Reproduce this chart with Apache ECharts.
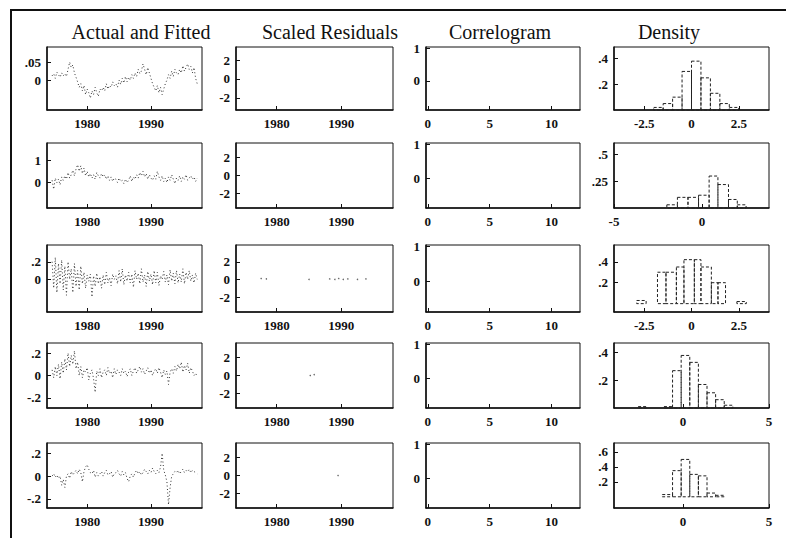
<!DOCTYPE html>
<html><head><meta charset="utf-8">
<script src="https://cdn.jsdelivr.net/npm/echarts@6/dist/echarts.min.js"></script>
<style>html,body{margin:0;padding:0;background:#fff}#c{width:793px;height:538px}</style>
</head><body><div id="c"></div>
<script>
// ---------- DATA ----------
var panelTitles = ["Actual and Fitted", "Scaled Residuals", "Correlogram", "Density"];
var startQuarter = 1974.5; // quarterly observations
var actual1 = [0.012,0.018,0.005,0.022,0.015,0.008,0.02,0.012, 0.018,0.01,0.03,0.05,0.035,0.042,0.02,0.008,
  -0.005,-0.02,-0.01,-0.03,-0.015,-0.04,-0.025,-0.035, -0.05,-0.03,-0.04,-0.02,-0.035,-0.045,-0.025,-0.03,
  -0.02,-0.03,-0.01,-0.025,-0.015,-0.02,-0.005,-0.015, -0.01,-0.02,0.0,-0.012,0.005,-0.008,0.01,-0.005,
  0.008,0.0,0.015,0.005,0.02,0.01,0.03,0.018, 0.025,0.045,0.03,0.015,0.035,0.02,0.005,-0.01,
  -0.02,-0.03,-0.015,-0.035,-0.02,-0.04,-0.025,-0.01, 0.0,0.015,0.005,0.025,0.01,0.03,0.02,0.015,
  0.03,0.02,0.04,0.025,0.035,0.045,0.03,0.038, 0.02,0.035,0.005,-0.01];
var actual2 = [0.1,-0.3,0.2,0.0,0.15,-0.1,0.25,0.1, 0.3,0.15,0.45,0.2,0.35,0.55,0.3,0.6,
  0.8,0.5,0.75,0.4,0.65,0.3,0.5,0.25, 0.4,0.2,0.35,0.15,0.45,0.3,0.2,0.4,
  0.25,0.35,0.15,0.3,0.1,0.25,0.05,0.2, 0.15,0.0,0.2,0.05,0.1,-0.05,0.15,0.0,
  0.1,0.3,0.05,0.25,0.15,0.35,0.2,0.45, 0.3,0.5,0.25,0.4,0.15,0.35,0.2,0.1,
  0.3,0.15,0.5,0.25,0.1,0.3,0.05,0.2, 0.0,0.25,0.1,0.35,0.15,-0.05,0.2,0.1,
  0.3,0.05,0.25,0.15,0.35,0.1,0.2,0.3, 0.15,0.25,0.05,0.2];
var actual3 = [0.2,-0.1,0.25,-0.15,0.18,-0.05,0.22,-0.12, 0.15,-0.18,0.2,0.0,0.12,-0.15,0.18,-0.08,
  0.1,-0.12,0.15,-0.05,0.08,-0.1,0.05,-0.02, 0.06,-0.2,0.04,-0.08,0.07,-0.05,0.03,-0.1,
  0.05,-0.06,0.08,-0.04,0.02,-0.07,0.06,0.0, 0.04,-0.05,0.1,-0.03,0.12,-0.06,0.05,-0.02,
  0.08,-0.04,0.06,-0.09,0.1,0.0,0.07,-0.05, 0.12,-0.03,0.05,-0.08,0.09,-0.02,0.06,-0.06,
  0.1,-0.04,0.08,-0.07,0.04,0.0,0.09,-0.03, 0.05,-0.06,0.11,-0.02,0.07,-0.05,0.1,-0.04,
  0.06,-0.03,0.12,-0.05,0.08,0.0,0.1,-0.02, 0.05,-0.04,0.07,0.0];
var actual4 = [0.05,-0.02,0.08,0.0,0.1,-0.03,0.12,0.02, 0.15,0.05,0.2,0.08,0.18,0.1,0.22,0.06,
  0.12,0.0,0.08,-0.02,0.05,0.03,0.07,-0.04, 0.02,0.05,-0.03,-0.15,0.04,0.0,0.06,-0.02,
  0.03,0.05,0.0,0.07,0.02,0.04,-0.02,0.06, 0.01,0.05,0.03,0.0,0.06,0.02,0.04,-0.01,
  0.03,0.06,0.0,0.04,0.07,0.02,0.05,0.08, 0.03,0.06,0.01,0.04,0.07,0.02,0.05,0.0,
  0.04,0.06,0.02,0.07,0.03,-0.02,0.05,0.01, 0.04,-0.08,0.03,0.06,0.02,0.08,0.04,0.1,
  0.06,0.12,0.03,0.09,0.05,0.11,0.02,0.07, 0.04,0.0,0.02,-0.01];
var actual5 = [0.0,0.02,-0.01,0.01,-0.02,0.0,-0.08,-0.03, -0.1,0.0,0.02,-0.02,0.04,0.01,0.03,0.05,
  0.02,0.06,0.03,-0.05,0.04,0.08,0.1,0.06, 0.03,0.02,0.05,-0.01,0.03,0.0,0.02,0.04,
  0.0,0.03,0.05,0.01,0.02,0.04,-0.01,0.02, 0.03,0.05,0.02,0.0,0.04,0.01,0.03,-0.02,
  -0.05,0.0,0.02,-0.01,0.03,0.05,0.02,0.04, 0.01,0.03,0.06,0.04,0.02,0.05,0.03,0.07,
  0.04,0.02,0.05,0.03,0.08,0.2,0.05,0.01, -0.05,-0.25,-0.1,0.0,0.02,0.04,0.03,0.05,
  0.02,0.04,0.06,0.03,0.05,0.04,0.06,0.03, 0.05,0.04,0.03,0.02];
var actualSeries = [actual1, actual2, actual3, actual4, actual5];

// scaled residuals: only faint scattered points survive in the picture
var resid1 = [];
var resid2 = [];
var resid3 = [[1977.6,0.1],[1978.4,0.05],[1985.0,0.0],[1988.2,0.05],[1989.0,0.0],[1989.6,0.1],[1990.3,0.0],[1991.0,0.05],[1992.5,0.0],[1993.8,0.05]];
var resid4 = [[1985.2,0.0],[1985.8,0.1]];
var resid5 = [[1989.5,0.0]];
var residSeries = [resid1, resid2, resid3, resid4, resid5];

// density histograms: [binStart, binEnd, height]
var hist1 = [[-2,-1.5,0.02],[-1.5,-1,0.05],[-1,-0.5,0.1],[-0.5,0,0.3],[0,0.5,0.38],[0.5,1,0.25],[1,1.5,0.13],[1.5,2,0.05],[2,2.5,0.02]];
var hist2 = [[-2,-1.4,0.03],[-1.4,-0.8,0.1],[-0.8,-0.2,0.1],[-0.2,0.4,0.12],[0.4,0.9,0.3],[0.9,1.5,0.22],[1.5,2,0.08],[2,2.5,0.03]];
var hist3 = [[-2.9,-2.4,0.03],[-1.8,-1.35,0.3],[-1.35,-0.8,0.3],[-0.8,-0.4,0.35],[-0.4,0.15,0.42],[0.15,0.5,0.42],[0.5,1.05,0.35],[1.05,1.4,0.2],[1.4,1.8,0.2],[2.4,2.9,0.02]];
var hist4 = [[-2.6,-2.1,0.01],[-1.1,-0.6,0.01],[-0.6,-0.1,0.27],[-0.1,0.4,0.38],[0.4,0.9,0.33],[0.9,1.4,0.17],[1.4,1.9,0.11],[1.9,2.4,0.06],[2.4,2.9,0.02]];
var hist5 = [[-1.2,-0.6,0.03],[-0.6,-0.1,0.35],[-0.1,0.4,0.5],[0.4,0.9,0.3],[0.9,1.4,0.28],[1.4,1.9,0.05],[1.9,2.4,0.02]];
var histSeries = [hist1, hist2, hist3, hist4, hist5];

// tick labels
var yearTicks = [1980, 1990];
var lagTicks = [0, 5, 10];
var actualYTicks = [[0, 0.05], [0, 1], [0, 0.2], [-0.2, 0, 0.2], [-0.2, 0, 0.2]];
var residYTicks = [-2, 0, 2];
var corrYTicks = [0, 1];
var densXTicks = [[-2.5, 0, 2.5], [-5, 0], [-2.5, 0, 2.5], [0, 5], [0, 5]];
var densYTicks = [[0.2, 0.4], [0.25, 0.5], [0.2, 0.4], [0.2, 0.4], [0.2, 0.4, 0.6]];

// ---------- LAYOUT ----------
var colLeft = [47, 236, 426, 614], colWidth = [155, 157, 154, 155];
var rowTop = [47, 143, 245, 343, 443], rowHeight = [63, 65, 67, 65, 65];
var titleX = [141, 330, 500, 669];
var yearRange = [1973.7, 1998];
var lagRange = [-0.15, 12.3];
var actualYRange = [[-0.083, 0.092], [-1.14, 1.77], [-0.37, 0.39], [-0.29, 0.29], [-0.28, 0.29]];
var residYRange = [[-3.3, 3.4], [-3.6, 3.6], [-3.7, 3.9], [-3.6, 3.6], [-3.6, 3.6]];
var corrYRange = [-0.9, 1.05];
var densXRange = [[-4.1, 4.1], [-5, 3.8], [-4.1, 4.1], [-4, 5], [-4, 5]];
var densYRange = [[0, 0.49], [0, 0.61], [-0.08, 0.56], [0, 0.47], [-0.15, 0.72]];

var FONT = "'Liberation Serif', 'DejaVu Serif', serif";
function fmt(v) {
  var s = String(+(+v).toFixed(3));
  return s.replace(/^(-?)0\./, '$1.');
}
var times = actual1.map(function (_, i) { return startQuarter + i * 0.25; });

var grids = [], xAxes = [], yAxes = [], series = [];
function axisCommon(ticks, min, max, isX) {
  return {
    type: 'value', min: min, max: max,
    splitLine: { show: false },
    axisLine: { show: true, onZero: false, lineStyle: { color: '#111', width: 1.5 } },
    axisTick: { show: true, inside: true, length: 4, customValues: ticks, lineStyle: { color: '#111' } },
    axisLabel: { customValues: ticks, formatter: isX === 'year' ? function (v) { return String(Math.round(v)); } : fmt,
      fontFamily: FONT, fontWeight: 'bold', fontSize: 13, color: '#111', margin: isX ? 7 : 6 }
  };
}
for (var r = 0; r < 5; r++) {
  for (var c = 0; c < 4; c++) {
    var gi = grids.length;
    grids.push({ left: colLeft[c], top: rowTop[r], width: colWidth[c], height: rowHeight[r],
      show: true, borderColor: '#111', borderWidth: 1, backgroundColor: 'transparent', containLabel: false });
    var xa, ya;
    if (c === 0) { xa = axisCommon(yearTicks, yearRange[0], yearRange[1], 'year'); ya = axisCommon(actualYTicks[r], actualYRange[r][0], actualYRange[r][1]); }
    else if (c === 1) { xa = axisCommon(yearTicks, yearRange[0], yearRange[1], 'year'); ya = axisCommon(residYTicks, residYRange[r][0], residYRange[r][1]); }
    else if (c === 2) { xa = axisCommon(lagTicks, lagRange[0], lagRange[1], true); ya = axisCommon(corrYTicks, corrYRange[0], corrYRange[1]); }
    else { xa = axisCommon(densXTicks[r], densXRange[r][0], densXRange[r][1], true); ya = axisCommon(densYTicks[r], densYRange[r][0], densYRange[r][1]); }
    xa.gridIndex = gi; ya.gridIndex = gi;
    xAxes.push(xa); yAxes.push(ya);
    if (c === 0) {
      series.push({ type: 'line', xAxisIndex: gi, yAxisIndex: gi, showSymbol: false, silent: true,
        data: times.map(function (t, i) { return [t, actualSeries[r][i]]; }),
        lineStyle: { color: '#333', width: 1, type: [1, 2.5] } });
    } else if (c === 1) {
      series.push({ type: 'scatter', xAxisIndex: gi, yAxisIndex: gi, symbolSize: 1.5, silent: true,
        data: residSeries[r], itemStyle: { color: '#444' } });
    } else if (c === 3) {
      series.push({ type: 'custom', xAxisIndex: gi, yAxisIndex: gi, silent: true,
        data: histSeries[r], encode: { x: [0, 1], y: 2 },
        renderItem: function (params, api) {
          var p0 = api.coord([api.value(0), api.value(2)]);
          var p1 = api.coord([api.value(1), 0]);
          return { type: 'rect', shape: { x: p0[0], y: p0[1], width: p1[0] - p0[0], height: p1[1] - p0[1] },
            style: { fill: 'none', stroke: '#222', lineWidth: 1, lineDash: [3, 2] } };
        } });
    }
  }
}

var graphics = [
  { type: 'line', shape: { x1: 10, y1: 10, x2: 786, y2: 10 }, style: { stroke: '#111', lineWidth: 2 } },
  { type: 'line', shape: { x1: 11, y1: 10, x2: 11, y2: 538 }, style: { stroke: '#111', lineWidth: 2 } }
];
panelTitles.forEach(function (t, i) {
  graphics.push({ type: 'text', x: titleX[i], y: 32, style: { text: t, fontFamily: FONT, fontSize: 20,
    fill: '#111', textAlign: 'center', textVerticalAlign: 'middle' } });
});

var chart = echarts.init(document.getElementById('c'), null, { renderer: 'svg' });
chart.setOption({
  backgroundColor: '#fff', animation: false,
  grid: grids, xAxis: xAxes, yAxis: yAxes, series: series, graphic: graphics
});
</script></body></html>
